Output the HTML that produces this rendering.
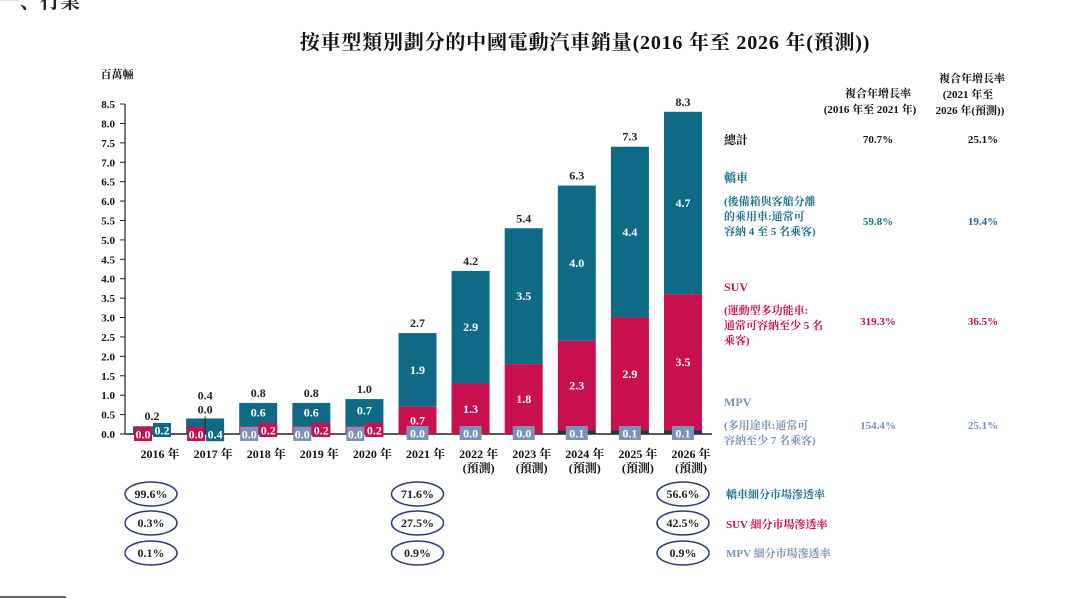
<!DOCTYPE html>
<html><head><meta charset="utf-8"><style>
body{margin:0;background:#fff;}
svg{display:block;font-family:"Liberation Serif","Noto Serif CJK SC","Noto Sans CJK TC",serif;}
</style></head><body>
<svg id="c" width="1080" height="599" viewBox="0 0 1080 599">
<text x="0" y="8" font-size="20" font-weight="bold" fill="#222">一、行業</text>
<text x="585" y="49" font-size="20" font-weight="bold" text-anchor="middle" fill="#111" letter-spacing="0.8">按車型類別劃分的中國電動汽車銷量(2016 年至 2026 年(預測))</text>
<text x="117" y="78" font-size="11" font-weight="bold" text-anchor="middle" fill="#111">百萬輛</text>
<g id="axes"></g><g id="bars"></g><g id="labels"></g>
<g font-weight="bold" font-size="11">
<text x="878" y="97" text-anchor="middle" fill="#111">複合年增長率</text>
<text x="870" y="113" text-anchor="middle" fill="#111">(2016 年至 2021 年)</text>
<text x="972" y="82" text-anchor="middle" fill="#111">複合年增長率</text>
<text x="968" y="98" text-anchor="middle" fill="#111">(2021 年至</text>
<text x="970" y="114" text-anchor="middle" fill="#111">2026 年(預測))</text>
<text x="724" y="144" font-size="12" fill="#111">總計</text>
<text x="878" y="143" text-anchor="middle" fill="#111">70.7%</text>
<text x="983" y="143" text-anchor="middle" fill="#111">25.1%</text>
<g fill="#1b6f8a"><text x="724" y="182" font-size="12">轎車</text>
<text x="724" y="205">(後備箱與客艙分離</text><text x="724" y="220">的乘用車:通常可</text><text x="724" y="235">容納 4 至 5 名乘客)</text>
<text x="878" y="225" text-anchor="middle">59.8%</text><text x="983" y="225" text-anchor="middle">19.4%</text></g>
<g fill="#c8104f"><text x="724" y="291" font-size="12">SUV</text>
<text x="724" y="314">(運動型多功能車:</text><text x="724" y="329">通常可容納至少 5 名</text><text x="724" y="344">乘客)</text>
<text x="878" y="325" text-anchor="middle">319.3%</text><text x="983" y="325" text-anchor="middle">36.5%</text></g>
<g fill="#7b93bb"><text x="724" y="406" font-size="12">MPV</text>
<text x="724" y="429">(多用途車:通常可</text><text x="724" y="444">容納至少 7 名乘客)</text>
<text x="878" y="429" text-anchor="middle">154.4%</text><text x="983" y="429" text-anchor="middle">25.1%</text></g>
<text x="726" y="498" fill="#1b6f8a">轎車細分市場滲透率</text>
<text x="726" y="528" fill="#c8104f">SUV 細分市場滲透率</text>
<text x="726" y="557" fill="#7b93bb">MPV 細分市場滲透率</text>
</g>
<g id="pen"></g>
<line x1="0" y1="597" x2="66" y2="597" stroke="#333" stroke-width="1.5"/>
</svg>
<script>
const years=["2016 年","2017 年","2018 年","2019 年","2020 年","2021 年","2022 年","2023 年","2024 年","2025 年","2026 年"];
const forecast=[0,0,0,0,0,0,1,1,1,1,1];
const mpv=[0.0,0.0,0.0,0.0,0.0,0.0,0.0,0.0,0.1,0.1,0.1];
const suv=[0.0,0.0,0.2,0.2,0.2,0.7,1.3,1.8,2.3,2.9,3.5];
const sedan=[0.2,0.4,0.6,0.6,0.7,1.9,2.9,3.5,4.0,4.4,4.7];
const totals=["0.2","0.4","0.8","0.8","1.0","2.7","4.2","5.4","6.3","7.3","8.3"];
const yTicks=[0,0.5,1,1.5,2,2.5,3,3.5,4,4.5,5,5.5,6,6.5,7,7.5,8,8.5];
const penIdx=[0,5,10];
const penSedan=["99.6%","71.6%","56.6%"];
const penSuv=["0.3%","27.5%","42.5%"];
const penMpv=["0.1%","0.9%","0.9%"];
const NS="http://www.w3.org/2000/svg";
const TEAL="#0e6a85",RED="#c8104f",SLATE="#7b93bb";
const y=v=>434-v*38.82;
const xc=i=>152+i*53.1;
function mk(tag,attrs,parent,text){const e=document.createElementNS(NS,tag);for(const k in attrs)e.setAttribute(k,attrs[k]);if(text!==undefined)e.textContent=text;parent.appendChild(e);return e;}
const ax=document.getElementById('axes'),bg=document.getElementById('bars'),lg=document.getElementById('labels'),pg=document.getElementById('pen');
yTicks.forEach(t=>{
 const tx=mk('text',{x:115,y:y(t)+4,'font-size':11,'font-weight':'bold','text-anchor':'end',fill:'#111'},ax,t.toFixed(1));
 
 
 const tl=mk('line',{x1:120,x2:125,y1:y(t),y2:y(t),stroke:'#222'},ax);
 
 
});
const yl=mk('line',{x1:125,x2:125,y1:y(8.5),y2:y(0),stroke:'#222','stroke-width':1.2},ax);


const xl=mk('line',{x1:125,x2:712,y1:y(0),y2:y(0),stroke:'#222','stroke-width':1.5},ax);


function box(cx,cy,w,fill,txt,name){
 const r=mk('rect',{x:cx-w/2,y:cy-7,width:w,height:14,fill:fill},lg);
 
 
 const t=mk('text',{x:cx,y:cy+4.5,'font-size':12,'font-weight':'bold','text-anchor':'middle',fill:'#fff'},lg,txt);
 
 
}
years.forEach((yr,i)=>{
 const cx=xc(i),w=38,x0=cx-w/2;
 const b0=y(0),b1=y(mpv[i]),b2=y(mpv[i]+suv[i]),b3=y(mpv[i]+suv[i]+sedan[i]);
 const rm=mk('rect',{x:x0,y:b1,width:w,height:b0-b1,fill:'#2a3140'},bg);
 
 
 const rs=mk('rect',{x:x0,y:b2,width:w,height:b1-b2,fill:RED},bg);
 
 
 const rt=mk('rect',{x:x0,y:b3,width:w,height:b2-b3,fill:TEAL},bg);
 
 
 const off=(i==1)?19:6;
 const tt=mk('text',{x:cx,y:b3-off,'font-size':12,'font-weight':'bold','text-anchor':'middle',fill:'#222'},lg,totals[i]);
 
 
 if(i<2){
  box(cx-9,434,18,RED,suv[i].toFixed(1),'suv-value');
  if(i==0){box(cx+10,430,18,TEAL,sedan[i].toFixed(1),'sedan-value');}
  else{
   const st=mk('text',{x:cx,y:b3-5,'font-size':12,'font-weight':'bold','text-anchor':'middle',fill:'#222'},lg,mpv[i].toFixed(1));
   
   
   const vl=mk('line',{x1:cx,x2:cx,y1:b3-2,y2:b0,stroke:'#222','stroke-width':1},lg);
   
   
   box(cx+10,(b2+b3)/2+8,18,TEAL,sedan[i].toFixed(1),'sedan-value');
  }
 }else if(i<5){
  box(cx-9,434,18,SLATE,mpv[i].toFixed(1),'mpv-value');
  box(cx+10,430,18,RED,suv[i].toFixed(1),'suv-value');
  const st=mk('text',{x:cx,y:(b2+b3)/2+2,'font-size':12,'font-weight':'bold','text-anchor':'middle',fill:'#fff'},lg,sedan[i].toFixed(1));
  
  
 }else{
  box(cx,433,22,SLATE,mpv[i].toFixed(1),'mpv-value');
  const ss=mk('text',{x:cx,y:(b1+b2)/2+4,'font-size':12,'font-weight':'bold','text-anchor':'middle',fill:'#fff'},lg,suv[i].toFixed(1));
  
  
  const st=mk('text',{x:cx,y:(b2+b3)/2+4,'font-size':12,'font-weight':'bold','text-anchor':'middle',fill:'#fff'},lg,sedan[i].toFixed(1));
  
  
 }
 const xt=mk('text',{x:cx+8,y:458,'font-size':12,'font-weight':'bold','text-anchor':'middle',fill:'#111'},ax,yr);
 
 
 if(forecast[i]){
  const ft=mk('text',{x:cx+8,y:472,'font-size':12,'font-weight':'bold','text-anchor':'middle',fill:'#111'},ax,'(預測)');
  
  
 }
});
[[penSedan,494],[penSuv,523],[penMpv,553]].forEach(([arr,cy])=>{
 arr.forEach((v,k)=>{
  const cx=xc(penIdx[k])+(k==0?-1:0);
  const e=mk('ellipse',{cx:cx,cy:cy,rx:26,ry:12,fill:'none',stroke:'#2f3b7a','stroke-width':1.5},pg);
  
  
  const t=mk('text',{x:cx,y:cy+4,'font-size':12,'font-weight':'bold','text-anchor':'middle',fill:'#222'},pg,v);
  
  
 });
});
</script>
</body></html>
